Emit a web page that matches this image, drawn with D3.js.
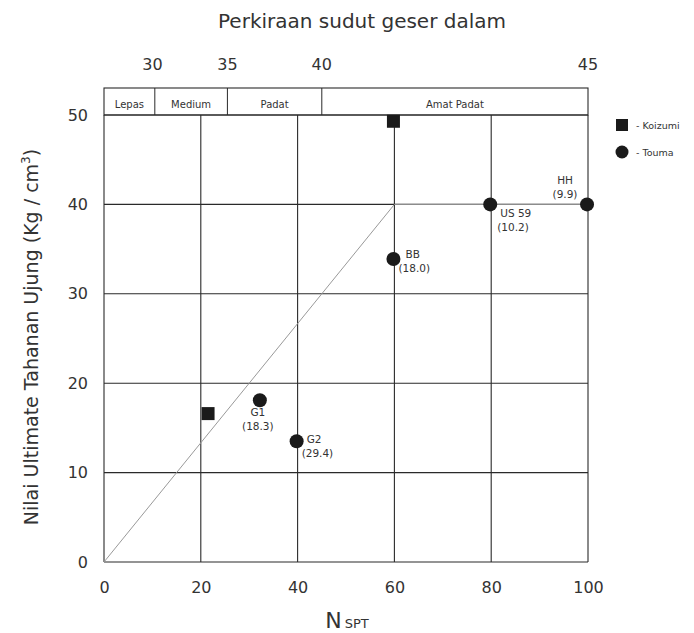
<!DOCTYPE html>
<html><head><meta charset="utf-8">
<script src="https://cdn.jsdelivr.net/npm/d3@7"></script>
<style>body{margin:0;background:#fff;} text{font-family:"DejaVu Sans",Verdana,sans-serif;}</style>
</head><body><svg id="c" width="694" height="633"></svg>
<script>
const xTicks = [0,20,40,60,80,100];
const yTicks = [0,10,20,30,40,50];
const bandNames = ["Lepas","Medium","Padat","Amat Padat"];
const bandEdges = [0,10.5,25.5,45,100];
const phiLabels = ["30","35","40","45"];
const phiPositions = [10,25.5,45,100];
const koizumiN = [21.5,59.8];
const koizumiQ = [16.6,49.3];
const toumaNames = ["G1","G2","BB","US 59","HH"];
const toumaVals = ["(18.3)","(29.4)","(18.0)","(10.2)","(9.9)"];
const toumaN = [32.2,39.8,59.8,79.8,99.8];
const toumaQ = [18.1,13.5,33.9,40.0,40.0];
const trendN = [0,60,100];
const trendQ = [0,40,40];

const svg = d3.select("#c");
const x = d3.scaleLinear().domain([0,100]).range([104,588]);
const y = d3.scaleLinear().domain([0,50]).range([562,115]);
const yTop = 88;
const col = "#2a2a2a";

const g = svg.append("g");
g.selectAll(".vg").data(xTicks).enter().append("line")
  .attr("x1",d=>x(d)).attr("x2",d=>x(d)).attr("y1",y(0)).attr("y2",y(50))
  .attr("stroke",col).attr("stroke-width",1.1);
g.selectAll(".hg").data(yTicks).enter().append("line")
  .attr("x1",x(0)).attr("x2",x(100)).attr("y1",d=>y(d)).attr("y2",d=>y(d))
  .attr("stroke",col).attr("stroke-width",1.1);
g.append("rect").attr("x",x(0)).attr("y",yTop).attr("width",x(100)-x(0)).attr("height",y(50)-yTop)
  .attr("fill","none").attr("stroke",col).attr("stroke-width",1.1);
g.selectAll(".bd").data(bandEdges.slice(1,-1)).enter().append("line")
  .attr("x1",d=>x(d)).attr("x2",d=>x(d)).attr("y1",yTop).attr("y2",y(50)).attr("stroke",col);
g.selectAll(".bn").data(bandNames).enter().append("text")
  .attr("x",(d,i)=>(x(bandEdges[i])+x(bandEdges[i+1]))/2).attr("y",yTop+20)
  .attr("text-anchor","middle").attr("font-size",10).attr("fill","#333").text(d=>d);

svg.append("path").datum(trendN.map((n,i)=>[n,trendQ[i]]))
  .attr("d",d3.line().x(d=>x(d[0])).y(d=>y(d[1])))
  .attr("fill","none").attr("stroke","#999").attr("stroke-width",1);

const xa = d3.axisBottom(x).tickValues(xTicks).tickSize(0).tickPadding(20);
const xg = svg.append("g").attr("transform",`translate(0,${y(0)})`).call(xa);
xg.select(".domain").remove();
xg.selectAll("text").attr("font-size",16).attr("fill","#333").attr("font-family","DejaVu Sans");
const ya = d3.axisLeft(y).tickValues(yTicks).tickSize(0).tickPadding(16);
const yg = svg.append("g").attr("transform",`translate(${x(0)},0)`).call(ya);
yg.select(".domain").remove();
yg.selectAll("text").attr("font-size",16).attr("fill","#333").attr("font-family","DejaVu Sans");

svg.selectAll(".phi").data(phiLabels).enter().append("text")
  .attr("x",(d,i)=>x(phiPositions[i])).attr("y",70).attr("text-anchor","middle")
  .attr("font-size",16).attr("fill","#333").text(d=>d);
svg.append("text").attr("x",362).attr("y",28).attr("text-anchor","middle")
  .attr("font-size",20).attr("fill","#333").text("Perkiraan sudut geser dalam");

const xt = svg.append("text").attr("x",347).attr("y",628).attr("text-anchor","middle").attr("fill","#333");
xt.append("tspan").attr("font-size",22).text("N");
xt.append("tspan").attr("font-size",13).attr("dx",3).text("SPT");
const yt = svg.append("text").attr("transform","translate(38,337) rotate(-90)").attr("text-anchor","middle")
  .attr("fill","#333").attr("font-size",19);
yt.append("tspan").text("Nilai Ultimate Tahanan Ujung (Kg / cm");
yt.append("tspan").attr("font-size",12).attr("dy",-8).text("3");
yt.append("tspan").attr("dy",8).text(")");

svg.selectAll(".kz").data(koizumiN).enter().append("rect")
  .attr("x",(d,i)=>x(d)-6.5).attr("y",(d,i)=>y(koizumiQ[i])-6.5).attr("width",13).attr("height",13)
  .attr("fill","#1a1a1a");
svg.selectAll(".tm").data(toumaN).enter().append("circle")
  .attr("cx",d=>x(d)).attr("cy",(d,i)=>y(toumaQ[i])).attr("r",7).attr("fill","#1a1a1a");

const lblOff = [[-2,16,"middle"],[10,2,"start"],[12,-1,"start"],[10,13,"start"],[-22,-20,"middle"]];
toumaN.forEach((n,i)=>{
  const o = lblOff[i];
  const t = svg.append("text").attr("x",x(n)+o[0]).attr("y",y(toumaQ[i])+o[1])
    .attr("text-anchor",o[2]).attr("font-size",10.5).attr("fill","#333");
  t.append("tspan").attr("x",x(n)+o[0]).text(toumaNames[i]);
  t.append("tspan").attr("x",x(n)+o[0]-(o[2]==="start"?(i===1?5:i===2?7:3):0)).attr("dy",14).text(toumaVals[i]);
});

const leg = svg.append("g");
leg.append("rect").attr("x",616).attr("y",119).attr("width",12).attr("height",12).attr("fill","#1a1a1a");
leg.append("text").attr("x",636).attr("y",129).attr("font-size",9.5).attr("fill","#333").text("- Koizumi");
leg.append("circle").attr("cx",622).attr("cy",152).attr("r",6.5).attr("fill","#1a1a1a");
leg.append("text").attr("x",636).attr("y",156).attr("font-size",9.5).attr("fill","#333").text("- Touma");
</script></body></html>
